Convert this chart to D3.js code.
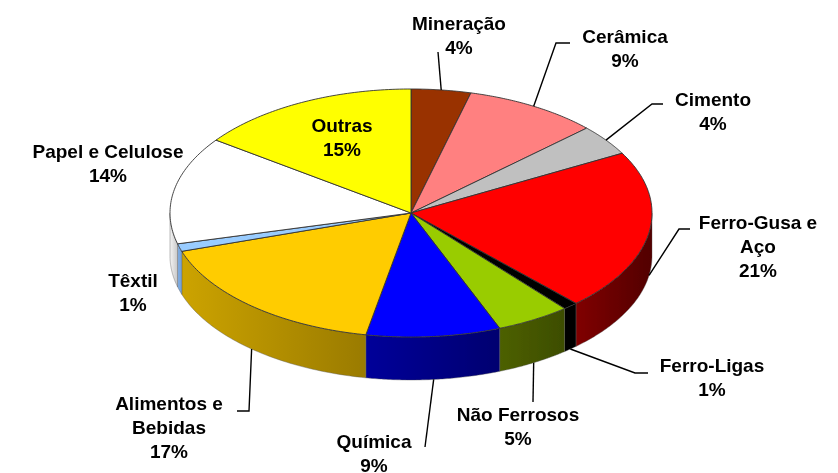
<!DOCTYPE html>
<html lang="en">
<head>
  <meta charset="UTF-8">
  <title>Consumo por setor</title>
  <script src="https://cdn.jsdelivr.net/npm/d3@7"></script>
  <style>
    html, body { margin: 0; padding: 0; background: #fff; }
    svg { display: block; }
    text { font-family: "Liberation Sans", Arial, sans-serif; font-weight: bold; font-size: 19px; fill: #000; text-anchor: middle; }
  </style>
</head>
<body>
  <div id="chart"></div>
  <script>

  // values, clockwise from 12 o'clock
  const sectors = ["Mineração", "Cerâmica", "Cimento", "Ferro-Gusa e Aço", "Ferro-Ligas", "Não Ferrosos", "Química", "Alimentos e Bebidas", "Têxtil", "Papel e Celulose", "Outras"];
  const shares = [4, 9, 4, 21, 1, 5, 9, 17, 1, 14, 15];

  const topColors = ["#993300", "#ff8080", "#c0c0c0", "#ff0000", "#000000", "#99cc00", "#0000ff", "#ffcc00", "#99ccff", "#ffffff", "#ffff00"];
  const wallLight = ["#7a2900", "#cc6666", "#999999", "#800000", "#000000", "#4d6000", "#000099", "#cca300", "#85b4ea", "#f4f4f4", "#cccc00"];
  const wallDark = ["#4d1a00", "#804040", "#606060", "#520000", "#000000", "#3d4d00", "#000070", "#9a7b00", "#6f9dd0", "#c8c8c8", "#808000"];

  const labelLines = [["Mineração", "4%"], ["Cerâmica", "9%"], ["Cimento", "4%"], ["Ferro-Gusa e", "Aço", "21%"], ["Ferro-Ligas", "1%"], ["Não Ferrosos", "5%"], ["Química", "9%"], ["Alimentos e", "Bebidas", "17%"], ["Têxtil", "1%"], ["Papel e Celulose", "14%"], ["Outras", "15%"]];

  // layout of labels: centre x, first baseline y, then the elbow points of each leader
  const labelPos = [[459, 30], [625, 43], [713, 106], [758, 229], [712, 372], [518, 421], [374, 448], [169, 410], [133, 287], [108, 158], [342, 132]];
  const leaderBends = [[[438, 52]], [[556, 43], [570, 43]], [[652, 104], [663, 104]], [[679, 229], [690, 229]], [[635, 373], [648, 373]], [[533, 402]], [[425, 447]], [[249, 411], [237, 411]], null, null, null];

  const width = 838, height = 473;
  const cx = 411, cy = 213, rx = 241, ry = 124, depth = 43;
  const lineGap = 24;

  const svg = d3.select("#chart").append("svg")
    .attr("width", width)
    .attr("height", height);

  const defs = svg.append("defs");
  defs.append("filter").attr("id", "soft")
    .attr("x", "-5%").attr("y", "-5%").attr("width", "110%").attr("height", "110%")
    .append("feGaussianBlur").attr("stdDeviation", 0.45);

  const chart = svg.append("g").attr("filter", "url(#soft)");

  const slices = d3.pie().sort(null).value(d => d)(shares);

  // angle (0 = up, clockwise) -> point on the tilted rim
  const px = a => cx + rx * Math.sin(a);
  const py = a => cy - ry * Math.cos(a);
  const rim = (a0, a1) => d3.range(0, 61).map(i => a0 + (a1 - a0) * i / 60);

  const line = d3.line();

  // side walls, only the front half of the disc shows
  slices.forEach((s, i) => {
    const a0 = Math.max(s.startAngle, Math.PI / 2);
    const a1 = Math.min(s.endAngle, Math.PI * 3 / 2);
    if (a1 <= a0) return;

    const leftToRight = px(a0) < px(a1);
    const grad = defs.append("linearGradient")
      .attr("id", "wall" + i)
      .attr("gradientUnits", "userSpaceOnUse")
      .attr("x1", Math.min(px(a0), px(a1))).attr("x2", Math.max(px(a0), px(a1)))
      .attr("y1", 0).attr("y2", 0);
    grad.append("stop").attr("offset", 0).attr("stop-color", wallLight[i]);
    grad.append("stop").attr("offset", 1).attr("stop-color", wallDark[i]);

    const upper = rim(a0, a1).map(a => [px(a), py(a)]);
    const lower = rim(a1, a0).map(a => [px(a), py(a) + depth]);
    chart.append("path")
      .attr("d", line(upper.concat(lower)) + "Z")
      .attr("fill", `url(#wall${i})`)
      .attr("stroke", "#555")
      .attr("stroke-width", 0.4);
  });

  // top of the disc
  slices.forEach((s, i) => {
    const pts = [[cx, cy]].concat(rim(s.startAngle, s.endAngle).map(a => [px(a), py(a)]));
    chart.append("path")
      .attr("d", line(pts) + "Z")
      .attr("fill", topColors[i])
      .attr("stroke", "#333")
      .attr("stroke-width", 0.9)
      .attr("stroke-linejoin", "round");
  });

  // leaders start at the slice middle, on the lower rim when the slice faces us
  slices.forEach((s, i) => {
    if (!leaderBends[i]) return;
    const mid = (s.startAngle + s.endAngle) / 2;
    const front = Math.cos(mid) < 0;
    const start = [px(mid), py(mid) + (front ? depth : 0)];
    chart.append("path")
      .attr("d", line([start].concat(leaderBends[i])))
      .attr("fill", "none")
      .attr("stroke", "#000")
      .attr("stroke-width", 1.4);
  });

  // labels
  labelLines.forEach((lines, i) => {
    const t = chart.append("text")
      .attr("x", labelPos[i][0])
      .attr("y", labelPos[i][1]);
    lines.forEach((l, j) => {
      t.append("tspan")
        .attr("x", labelPos[i][0])
        .attr("y", labelPos[i][1] + j * lineGap)
        .text(l);
    });
  });

  </script>
</body>
</html>
